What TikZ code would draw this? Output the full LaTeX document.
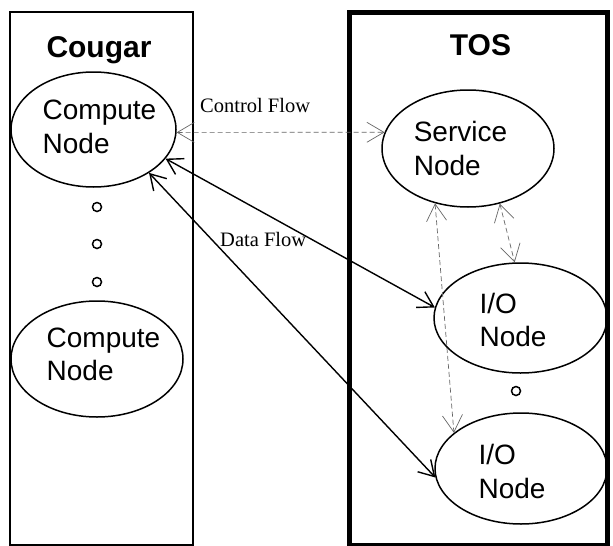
\documentclass[tikz,border=0pt]{standalone}
\usepackage{fontspec}
\setmainfont{Liberation Serif}
\setsansfont{Liberation Sans}
\usetikzlibrary{shapes.geometric,arrows.meta}
\tikzset{
	nodeell/.style={ellipse, draw, line width=1.5pt, inner sep=0pt},
	nodetxt/.style={font=\sffamily\fontsize{28}{33.5}\selectfont, align=left, inner sep=0pt},
	title/.style={font=\sffamily\bfseries\fontsize{30}{36}\selectfont, anchor=base, inner sep=0pt},
	flowlbl/.style={font=\fontsize{20.5}{24}\selectfont, anchor=base west, inner sep=0pt},
	dot/.style={circle, draw, line width=1.5pt, minimum size=9pt, inner sep=0pt},
	dataflow/.style={line width=1.4pt, {Straight Barb[length=15pt,width=18pt]}-{Straight Barb[length=15pt,width=18pt]}},
	ctrlflow/.style={line width=0.7pt, gray!80!black, dash pattern=on 5pt off 3pt, {Straight Barb[length=17pt,width=20pt]}-{Straight Barb[length=17pt,width=20pt]}}
}
\begin{document}
\begin{tikzpicture}[x=1pt,y=-1pt]
	\useasboundingbox (0,0) rectangle (613,546);
	% the two machines
	\draw[line width=2pt] (9.5,12) rectangle (193,545);
	\draw[line width=5pt] (349,12.5) rectangle (607,545);
	\node[title] (cougar) at (99,57) {Cougar};
	\node[title] (tos) at (480.5,55) {TOS};
	% compute side
	\node[nodeell, minimum width=165pt, minimum height=115pt] (comp1) at (93.5,129.5) {};
	\node[nodetxt] (comp1t) at (99.5,127) {Compute\\Node};
	\node[nodeell, minimum width=172pt, minimum height=116pt] (comp2) at (97,359) {};
	\node[nodetxt] (comp2t) at (103.5,354.5) {Compute\\Node};
	\foreach \y [count=\i] in {207,244,282}{
		\node[dot] (cdot\i) at (97,\y) {};
	}
	% service side
	\node[nodeell, minimum width=172pt, minimum height=117pt] (svc) at (468,148.5) {};
	\node[nodetxt] (svct) at (460.5,148.5) {Service\\Node};
	\node[nodeell, minimum width=173pt, minimum height=110pt] (io1) at (520.5,318) {};
	\node[nodetxt] (io1t) at (513,320) {I/O\\Node};
	\node[nodeell, minimum width=172pt, minimum height=111pt] (io2) at (521,468.5) {};
	\node[nodetxt] (io2t) at (512,471.5) {I/O\\Node};
	\node[dot] (iodot) at (516,391) {};
	% flows
	\node[flowlbl] (ctrl) at (200,112) {Control Flow};
	\node[flowlbl] (data) at (220,246) {Data Flow};
	\draw[ctrlflow] (comp1.-2) -- (svc.169);
	\draw[ctrlflow] (svc.-121) -- (io2.152);
	\draw[ctrlflow] (svc.-60) -- (io1.96);
	\draw[dataflow] (comp1.-22) -- (io1.173);
	\draw[dataflow] (comp1.-38) -- (io2.186);
\end{tikzpicture}
\end{document}
